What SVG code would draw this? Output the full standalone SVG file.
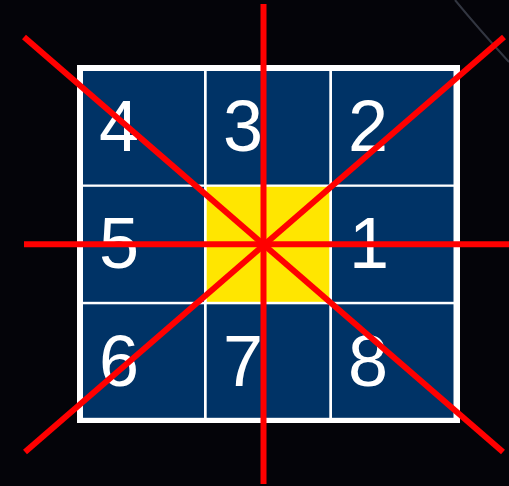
<svg xmlns="http://www.w3.org/2000/svg" width="509" height="486" viewBox="0 0 509 486">
<style>
.cell{fill:#003366}
.center{fill:#FFE600}
.num{font-family:"Liberation Sans",Arial,sans-serif;font-size:72px;fill:#ffffff}
.ray{stroke:#ff0000;stroke-width:6;fill:none}
</style>
<rect x="0" y="0" width="509" height="486" fill="#040409"/>
<path d="M455,0 Q478,28 509,62" stroke="#5a6070" stroke-width="2" fill="none" opacity="0.55"/>
<rect x="77" y="65" width="383" height="358" fill="#ffffff"/>
<g id="cell4"><rect class="cell" x="83" y="71" width="121" height="113.5"/><text class="num" x="99" y="151">4</text></g>
<g id="cell3"><rect class="cell" x="206.7" y="71" width="122.6" height="113.5"/><text class="num" x="223" y="151">3</text></g>
<g id="cell2"><rect class="cell" x="332" y="71" width="121.5" height="113.5"/><text class="num" x="348" y="151">2</text></g>
<g id="cell5"><rect class="cell" x="83" y="186.8" width="121" height="115"/><text class="num" x="99" y="268">5</text></g>
<g id="center"><rect class="center" x="206.7" y="186.8" width="122.6" height="115"/></g>
<g id="cell1"><rect class="cell" x="332" y="186.8" width="121.5" height="115"/><text class="num" x="349" y="268">1</text></g>
<g id="cell6"><rect class="cell" x="83" y="304.3" width="121" height="113.5"/><text class="num" x="99" y="386">6</text></g>
<g id="cell7"><rect class="cell" x="206.7" y="304.3" width="122.6" height="113.5"/><text class="num" x="223" y="386">7</text></g>
<g id="cell8"><rect class="cell" x="332" y="304.3" width="121.5" height="113.5"/><text class="num" x="348" y="386">8</text></g>
<g id="connectors">
<line class="ray" x1="263.5" y1="4" x2="263.5" y2="484"/>
<line class="ray" x1="24" y1="244.3" x2="509" y2="244.3"/>
<line class="ray" x1="24" y1="37" x2="503" y2="452"/>
<line class="ray" x1="504" y1="37" x2="25" y2="452"/>
</g>
</svg>
